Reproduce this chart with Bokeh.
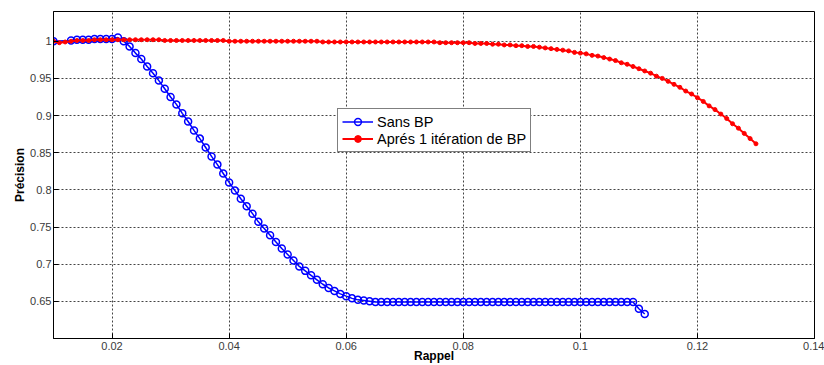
from bokeh.plotting import figure
from bokeh.models import FixedTicker, Legend, LegendItem, Range1d
from bokeh.embed import file_html
from bokeh.resources import INLINE

# ---- data ----
sans_bp_x = [0.010,
             0.013, 0.014, 0.015, 0.016, 0.017, 0.018, 0.019, 0.020, 0.021, 0.022,
             0.023, 0.024, 0.025, 0.026, 0.027, 0.028, 0.029, 0.030, 0.031, 0.032,
             0.033, 0.034, 0.035, 0.036, 0.037, 0.038, 0.039, 0.040, 0.041, 0.042,
             0.043, 0.044, 0.045, 0.046, 0.047, 0.048, 0.049, 0.050, 0.051, 0.052,
             0.053, 0.054, 0.055, 0.056, 0.057, 0.058, 0.059, 0.060, 0.061, 0.062,
             0.063, 0.064, 0.065, 0.066, 0.067, 0.068, 0.069, 0.070, 0.071, 0.072,
             0.073, 0.074, 0.075, 0.076, 0.077, 0.078, 0.079, 0.080, 0.081, 0.082,
             0.083, 0.084, 0.085, 0.086, 0.087, 0.088, 0.089, 0.090, 0.091, 0.092,
             0.093, 0.094, 0.095, 0.096, 0.097, 0.098, 0.099, 0.100, 0.101, 0.102,
             0.103, 0.104, 0.105, 0.106, 0.107, 0.108, 0.109, 0.110, 0.111]
sans_bp_y = [1.000,
             1.001, 1.002, 1.002, 1.002, 1.003, 1.003, 1.003, 1.003, 1.005, 1.000,
             0.993, 0.984, 0.976, 0.966, 0.957, 0.947, 0.936, 0.925, 0.915, 0.903,
             0.892, 0.880, 0.869, 0.857, 0.845, 0.834, 0.822, 0.810, 0.799, 0.788,
             0.778, 0.768, 0.757, 0.748, 0.739, 0.730, 0.721, 0.713, 0.705, 0.697,
             0.691, 0.685, 0.679, 0.673, 0.668, 0.664, 0.660, 0.657, 0.654, 0.652,
             0.651, 0.650, 0.649, 0.649, 0.649, 0.649, 0.649, 0.649, 0.649, 0.649,
             0.649, 0.649, 0.649, 0.649, 0.649, 0.649, 0.649, 0.649, 0.649, 0.649,
             0.649, 0.649, 0.649, 0.649, 0.649, 0.649, 0.649, 0.649, 0.649, 0.649,
             0.649, 0.649, 0.649, 0.649, 0.649, 0.649, 0.649, 0.649, 0.649, 0.649,
             0.649, 0.649, 0.649, 0.649, 0.649, 0.649, 0.649, 0.640, 0.633]

apres_bp_x = [0.010, 0.011, 0.012, 0.013, 0.014, 0.015, 0.016, 0.017, 0.018, 0.019,
              0.020, 0.021, 0.022, 0.023, 0.024, 0.025, 0.026, 0.027, 0.028, 0.029,
              0.030, 0.031, 0.032, 0.033, 0.034, 0.035, 0.036, 0.037, 0.038, 0.039,
              0.040, 0.041, 0.042, 0.043, 0.044, 0.045, 0.046, 0.047, 0.048, 0.049,
              0.050, 0.051, 0.052, 0.053, 0.054, 0.055, 0.056, 0.057, 0.058, 0.059,
              0.060, 0.061, 0.062, 0.063, 0.064, 0.065, 0.066, 0.067, 0.068, 0.069,
              0.070, 0.071, 0.072, 0.073, 0.074, 0.075, 0.076, 0.077, 0.078, 0.079,
              0.080, 0.081, 0.082, 0.083, 0.084, 0.085, 0.086, 0.087, 0.088, 0.089,
              0.090, 0.091, 0.092, 0.093, 0.094, 0.095, 0.096, 0.097, 0.098, 0.099,
              0.100, 0.101, 0.102, 0.103, 0.104, 0.105, 0.106, 0.107, 0.108, 0.109,
              0.110, 0.111, 0.112, 0.113, 0.114, 0.115, 0.116, 0.117, 0.118, 0.119,
              0.120, 0.121, 0.122, 0.123, 0.124, 0.125, 0.126, 0.127, 0.128, 0.129,
              0.130]
apres_bp_y = [1.000, 0.998, 0.999, 1.000, 1.001, 1.001, 1.001, 1.002, 1.002, 1.002,
              1.002, 1.002, 1.002, 1.002, 1.002, 1.002, 1.002, 1.002, 1.002, 1.001,
              1.001, 1.001, 1.001, 1.001, 1.001, 1.001, 1.001, 1.001, 1.001, 1.001,
              1.000, 1.000, 1.000, 1.000, 1.000, 1.000, 1.000, 1.000, 1.000, 1.000,
              1.000, 1.000, 1.000, 1.000, 1.000, 1.000, 0.999, 0.999, 0.999, 0.999,
              0.999, 0.999, 0.999, 0.999, 0.999, 0.999, 0.999, 0.999, 0.999, 0.999,
              0.999, 0.999, 0.999, 0.999, 0.999, 0.999, 0.998, 0.998, 0.998, 0.998,
              0.998, 0.998, 0.997, 0.997, 0.997, 0.996, 0.996, 0.995, 0.995, 0.994,
              0.994, 0.993, 0.993, 0.992, 0.991, 0.990, 0.989, 0.988, 0.987, 0.985,
              0.984, 0.983, 0.981, 0.980, 0.978, 0.976, 0.974, 0.971, 0.969, 0.966,
              0.963, 0.960, 0.957, 0.953, 0.950, 0.946, 0.942, 0.938, 0.933, 0.929,
              0.924, 0.919, 0.913, 0.908, 0.902, 0.896, 0.889, 0.883, 0.876, 0.869,
              0.862]

x_ticks = [0.02, 0.04, 0.06, 0.08, 0.10, 0.12, 0.14]
x_tick_labels = ["0.02", "0.04", "0.06", "0.08", "0.1", "0.12", "0.14"]
y_ticks = [0.65, 0.70, 0.75, 0.80, 0.85, 0.90, 0.95, 1.00]
y_tick_labels = ["0.65", "0.7", "0.75", "0.8", "0.85", "0.9", "0.95", "1"]

label_sans = "Sans BP"
label_apres = "Aprés 1 itération de BP"
x_title = "Rappel"
y_title = "Précision"

FONT = "Liberation Sans"

p = figure(width=824, height=365,
           x_range=Range1d(0.01, 0.14), y_range=Range1d(0.6, 1.04),
           output_backend="svg", toolbar_location=None,
           min_border_top=11, min_border_left=53, min_border_right=10,
           min_border_bottom=27)
p.background_fill_color = "white"
p.border_fill_color = "white"
p.outline_line_color = "black"
p.outline_line_width = 1

xt = FixedTicker(ticks=x_ticks)
yt = FixedTicker(ticks=y_ticks)

for ax, tk, labels in ((p.xaxis[0], xt, x_tick_labels), (p.yaxis[0], yt, y_tick_labels)):
    ax.ticker = tk
    ax.major_label_overrides = {t: l for t, l in zip(tk.ticks, labels)}
    ax.major_tick_in = 5
    ax.major_tick_out = 0
    ax.minor_tick_in = 0
    ax.minor_tick_out = 0
    ax.axis_line_color = "black"
    ax.major_tick_line_color = "black"
    ax.major_label_text_font = FONT
    ax.major_label_text_font_size = "11px"
    ax.major_label_text_color = "#3a3a3a"
    ax.axis_label_text_font = FONT
    ax.axis_label_text_font_size = "12px"
    ax.axis_label_text_font_style = "bold"
    ax.axis_label_text_color = "black"

p.xaxis.axis_label = x_title
p.xaxis.major_label_standoff = 3
p.xaxis.axis_label_standoff = -4
p.yaxis.axis_label = y_title
p.yaxis.major_label_standoff = 2
p.yaxis.axis_label_standoff = 0

for g, tk in ((p.xgrid[0], xt), (p.ygrid[0], yt)):
    g.ticker = tk
    g.grid_line_color = "#444444"
    g.grid_line_dash = "2 2"
    g.grid_line_width = 1

bl = p.line(sans_bp_x, sans_bp_y, line_color="#0000ff", line_width=1.5)
bs = p.scatter(sans_bp_x, sans_bp_y, marker="circle", size=7, line_color="#0000ff",
               line_width=1.5, fill_color=None)
rl = p.line(apres_bp_x, apres_bp_y, line_color="#ff0000", line_width=2)
rs = p.scatter(apres_bp_x, apres_bp_y, marker="circle", size=4, line_color="#ff0000",
               fill_color="#ff0000")

legend = Legend(items=[LegendItem(label=label_sans, renderers=[bl, bs]),
                       LegendItem(label=label_apres, renderers=[rl, rs])],
                location=(284, 186))
legend.border_line_color = "black"
legend.border_line_width = 1
legend.background_fill_color = "white"
legend.background_fill_alpha = 1
legend.label_text_font = FONT
legend.label_text_font_size = "14.5px"
legend.label_text_color = "black"
legend.glyph_width = 31
legend.glyph_height = 17
legend.label_height = 17
legend.label_standoff = 4
legend.spacing = 0
legend.padding = 4
legend.margin = 0
p.add_layout(legend)

open("out.html", "w").write(file_html(p, INLINE))
